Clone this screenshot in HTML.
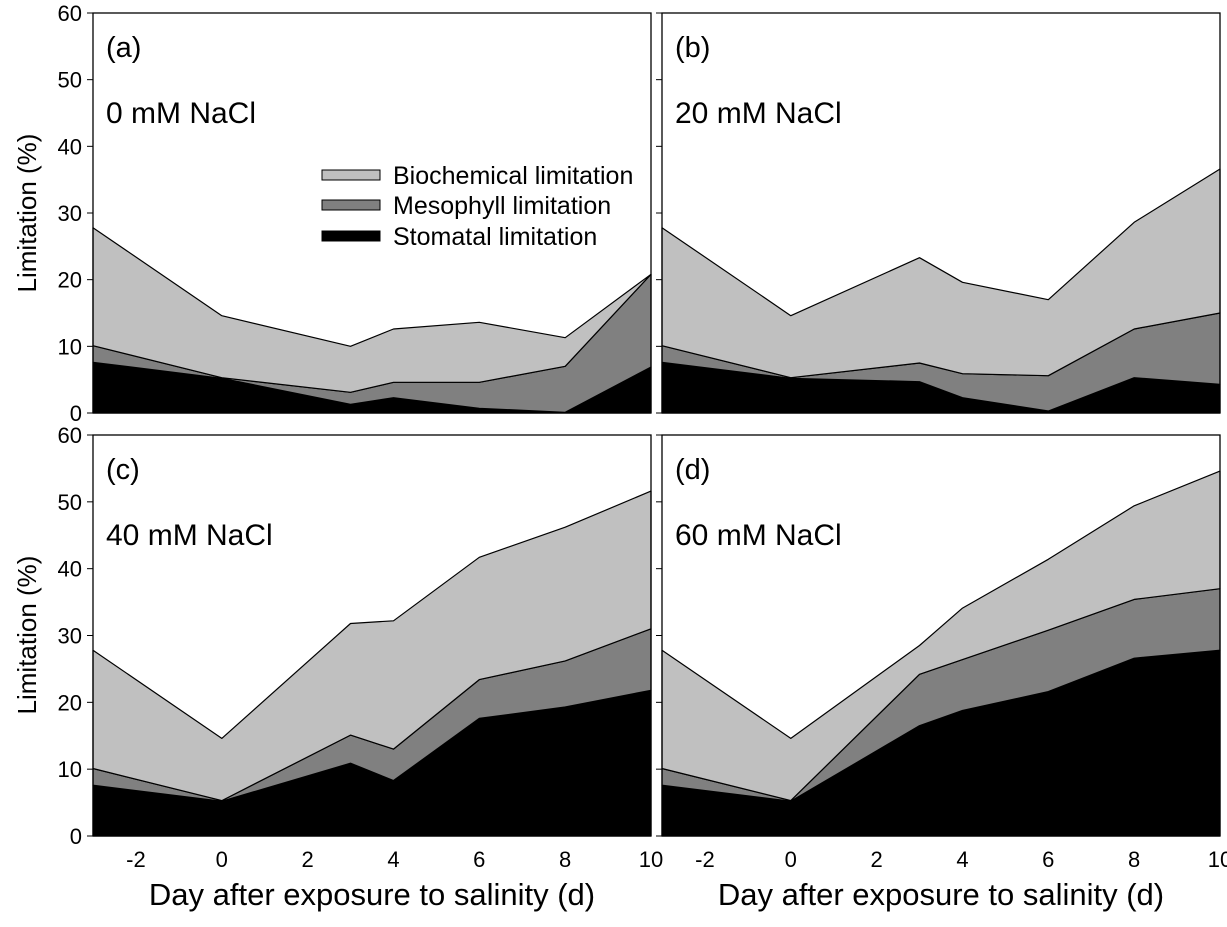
<!DOCTYPE html>
<html><head><meta charset="utf-8"><style>
body{margin:0;background:#fff;}
svg{display:block;font-family:"Liberation Sans",Arial,sans-serif;}
</style></head><body>
<svg id="chart" width="1227" height="927" viewBox="0 0 1227 927" xmlns="http://www.w3.org/2000/svg"></svg>
<script>
const days = [-3, 0, 3, 4, 6, 8, 10];
const xTickValues = [-2, 0, 2, 4, 6, 8, 10];
const xTickLabels = ['-2', '0', '2', '4', '6', '8', '10'];
const yTickValues = [0, 10, 20, 30, 40, 50, 60];
const panelLetters = ['(a)', '(b)', '(c)', '(d)'];
const panelTreatments = ['0 mM NaCl', '20 mM NaCl', '40 mM NaCl', '60 mM NaCl'];
const stomatalA = [7.6, 5.2, 1.3, 2.3, 0.7, 0.1, 6.9];
const mesophyllA = [2.5, 0.1, 1.8, 2.3, 3.9, 6.9, 13.9];
const biochemA = [17.7, 9.3, 6.9, 8.0, 9.0, 4.3, 0.0];
const stomatalB = [7.6, 5.2, 4.7, 2.3, 0.3, 5.3, 4.3];
const mesophyllB = [2.5, 0.1, 2.8, 3.6, 5.3, 7.3, 10.7];
const biochemB = [17.7, 9.3, 15.8, 13.7, 11.4, 16.0, 21.6];
const stomatalC = [7.6, 5.2, 10.9, 8.3, 17.6, 19.3, 21.8];
const mesophyllC = [2.5, 0.1, 4.2, 4.7, 5.8, 6.9, 9.2];
const biochemC = [17.7, 9.3, 16.7, 19.2, 18.3, 20.0, 20.6];
const stomatalD = [7.6, 5.2, 16.5, 18.8, 21.6, 26.6, 27.8];
const mesophyllD = [2.5, 0.1, 7.7, 7.6, 9.2, 8.8, 9.2];
const biochemD = [17.7, 9.3, 4.3, 7.7, 10.6, 14.0, 17.6];

const stomatal = [stomatalA, stomatalB, stomatalC, stomatalD];
const mesophyll = [mesophyllA, mesophyllB, mesophyllC, mesophyllD];
const biochem = [biochemA, biochemB, biochemC, biochemD];

const NS = 'http://www.w3.org/2000/svg';
const svg = document.getElementById('chart');
function mk(tag, attrs, parent) {
  const e = document.createElementNS(NS, tag);
  for (const k in attrs) e.setAttribute(k, attrs[k]);
  (parent || svg).appendChild(e);
  return e;
}
const panels = [
  {x0: 93, x1: 651, y0: 13, y1: 413},
  {x0: 662, x1: 1220, y0: 13, y1: 413},
  {x0: 93, x1: 651, y0: 435, y1: 836},
  {x0: 662, x1: 1220, y0: 435, y1: 836}
];
const colors = ['#000000', '#808080', '#c0c0c0'];
const names = ['stomatal', 'mesophyll', 'biochemical'];
const X0 = -3, X1 = 10;

panels.forEach((p, i) => {
  const g = mk('g', {});
  
  
  const xs = d => p.x0 + (d - X0) / (X1 - X0) * (p.x1 - p.x0);
  const ys = v => p.y1 - v / 60 * (p.y1 - p.y0);
  const layers = [stomatal[i], mesophyll[i], biochem[i]];
  let base = days.map(() => 0);
  layers.forEach((arr, li) => {
    const top = base.map((b, k) => b + arr[k]);
    let pts = days.map((d, k) => xs(d).toFixed(1) + ',' + ys(top[k]).toFixed(1));
    for (let k = days.length - 1; k >= 0; k--) pts.push(xs(days[k]).toFixed(1) + ',' + ys(base[k]).toFixed(1));
    const poly = mk('polygon', {points: pts.join(' '), fill: colors[li], stroke: '#000', 'stroke-width': 1.2, 'stroke-linejoin': 'round'}, g);
    
    
    base = top;
  });
  const frame = mk('rect', {x: p.x0, y: p.y0, width: p.x1 - p.x0, height: p.y1 - p.y0, fill: 'none', stroke: '#000', 'stroke-width': 1.3}, g);
  
  
  yTickValues.forEach(v => {
    mk('line', {x1: p.x0, x2: p.x0 - 6, y1: ys(v), y2: ys(v), stroke: '#000', 'stroke-width': 1}, g);
    if (i === 0 || i === 2) {
      const t = mk('text', {x: 82, y: ys(v) + 8, 'text-anchor': 'end', 'font-size': 22, fill: '#000'}, g);
      t.textContent = v;
      
      
    }
  });
  if (i >= 2) {
    xTickValues.forEach((v, k) => {
      const t = mk('text', {x: xs(v), y: p.y1 + 31, 'text-anchor': 'middle', 'font-size': 22, fill: '#000'}, g);
      t.textContent = xTickLabels[k];
      
      
    });
  }
  const l = mk('text', {x: p.x0 + 13, y: p.y0 + 44, 'font-size': 29, fill: '#000'}, g);
  l.textContent = panelLetters[i];
  
  
  const tr = mk('text', {x: p.x0 + 13, y: p.y0 + 110, 'font-size': 30, fill: '#000'}, g);
  tr.textContent = panelTreatments[i];
  
  
});

const legend = mk('g', {});


const legendLabels = ['Biochemical limitation', 'Mesophyll limitation', 'Stomatal limitation'];
const legendColors = ['#c0c0c0', '#808080', '#000000'];
const legendY = [175, 205, 236];
legendLabels.forEach((lab, k) => {
  const r = mk('rect', {x: 322, y: legendY[k] - 5, width: 58, height: 10, fill: legendColors[k], stroke: '#000', 'stroke-width': 1}, legend);
  
  
  const t = mk('text', {x: 393, y: legendY[k] + 9, 'font-size': 25, fill: '#000'}, legend);
  t.textContent = lab;
  
  
});

[213, 635].forEach(cy => {
  const t = mk('text', {x: 0, y: 0, transform: 'translate(36,' + cy + ') rotate(-90)', 'text-anchor': 'middle', 'font-size': 26, fill: '#000'});
  t.textContent = 'Limitation (%)';
  
  
});
[372, 941].forEach(cx => {
  const t = mk('text', {x: cx, y: 905, 'text-anchor': 'middle', 'font-size': 31, fill: '#000'});
  t.textContent = 'Day after exposure to salinity (d)';
  
  
});
</script>
</body></html>
